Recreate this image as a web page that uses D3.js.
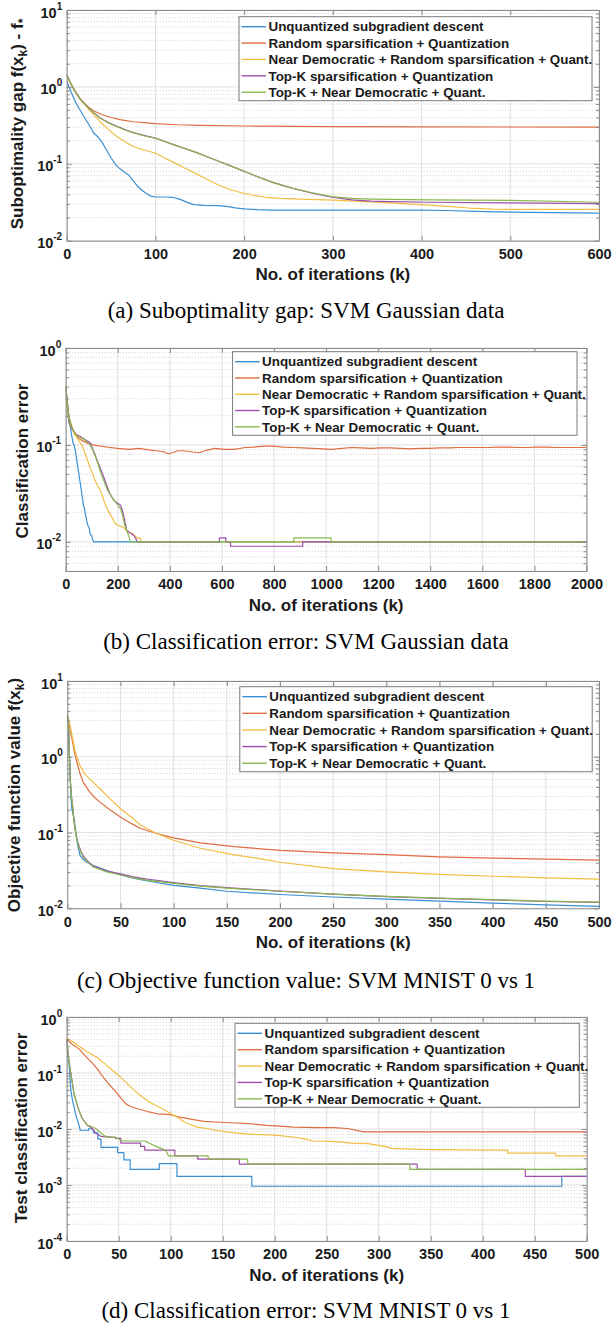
<!DOCTYPE html>
<html>
<head>
<meta charset="utf-8">
<script src="https://cdn.jsdelivr.net/npm/d3@7"></script>
<style>
  body { margin: 0; background: #fff; }
  svg { display: block; }
</style>
</head>
<body>
<svg id="chart" width="612" height="1324"></svg>
<script>
// legend entries, same for all four panels
const seriesNames = [
  'Unquantized subgradient descent',
  'Random sparsification + Quantization',
  'Near Democratic + Random sparsification + Quant.',
  'Top-K sparsification + Quantization',
  'Top-K + Near Democratic + Quant.'
];
const seriesColors = ['#3a8fd2', '#e06c42', '#f1bd42', '#9d4fab', '#88b84c'];

// (a) suboptimality gap, [iteration, value]
const gapUnquantized = [[0,1.2],[5,0.85],[10,0.63],[15,0.5],[20,0.4],[26,0.31],[30,0.255],[35,0.225],[40,0.19],[45,0.15],[50,0.12],[55,0.098],[60,0.086],[65,0.078],[70,0.071],[75,0.06],[80,0.051],[85,0.045],[90,0.041],[95,0.038],[100,0.037],[110,0.037],[120,0.0365],[128,0.0345],[136,0.0315],[143,0.0295],[155,0.0288],[170,0.0286],[180,0.028],[190,0.0267],[200,0.026],[215,0.0253],[230,0.025],[300,0.025],[400,0.025],[430,0.0247],[460,0.024],[500,0.0235],[550,0.0232],[600,0.0228]];
const gapRandom = [[0,1.4],[5,1.08],[10,0.86],[15,0.71],[20,0.61],[25,0.54],[30,0.49],[40,0.435],[50,0.4],[60,0.375],[75,0.352],[90,0.34],[100,0.333],[125,0.322],[150,0.316],[200,0.31],[300,0.305],[400,0.303],[500,0.301],[600,0.299]];
const gapNearDemRandom = [[0,1.45],[5,1.08],[10,0.85],[15,0.7],[22,0.56],[30,0.44],[38,0.35],[47,0.28],[56,0.228],[65,0.195],[75,0.168],[88,0.15],[100,0.138],[111,0.118],[122,0.102],[134,0.087],[145,0.075],[158,0.063],[171,0.053],[185,0.046],[197,0.042],[210,0.039],[224,0.0367],[240,0.0355],[255,0.035],[300,0.0338],[330,0.0325],[365,0.031],[409,0.029],[430,0.028],[453,0.0266],[480,0.0258],[500,0.0256],[600,0.0256]];
const gapTopK = [[0,1.45],[5,1.08],[10,0.85],[15,0.7],[22,0.57],[30,0.465],[38,0.395],[47,0.345],[56,0.31],[65,0.28],[75,0.255],[88,0.232],[100,0.216],[122,0.175],[145,0.142],[167,0.113],[189,0.09],[211,0.071],[233,0.057],[255,0.048],[277,0.0414],[299,0.0367],[321,0.034],[343,0.0328],[365,0.0322],[409,0.0316],[500,0.031],[600,0.0303]];
const gapTopKNearDem = [[0,1.45],[5,1.08],[10,0.85],[15,0.7],[22,0.57],[30,0.465],[38,0.39],[47,0.34],[56,0.305],[65,0.277],[75,0.252],[88,0.23],[100,0.215],[122,0.175],[145,0.142],[167,0.113],[189,0.09],[211,0.071],[233,0.057],[255,0.048],[277,0.042],[299,0.0375],[321,0.0355],[343,0.0348],[409,0.034],[500,0.0334],[600,0.0316]];

// (b) classification error, Gaussian data
const clsUnquantized = [[0,0.4],[2,0.33],[4,0.28],[8,0.22],[12,0.17],[17,0.16],[22,0.13],[28,0.105],[32,0.1],[38,0.085],[44,0.065],[51,0.049],[56,0.04],[62,0.031],[68,0.024],[72,0.022],[76,0.019],[80,0.017],[84,0.015],[90,0.014],[94,0.012],[100,0.0115],[104,0.0105],[107,0.01],[2000,0.01]];
const clsRandom = [[0,0.4],[5,0.3],[10,0.2],[17,0.16],[30,0.138],[49,0.118],[65,0.11],[81,0.105],[107,0.1],[132,0.097],[170,0.094],[200,0.092],[244,0.09],[280,0.092],[320,0.089],[349,0.087],[375,0.085],[394,0.081],[410,0.083],[430,0.087],[454,0.087],[480,0.085],[513,0.083],[540,0.088],[573,0.092],[610,0.09],[648,0.09],[690,0.094],[723,0.095],[760,0.097],[798,0.097],[835,0.095],[873,0.094],[910,0.093],[948,0.092],[985,0.091],[1022,0.09],[1060,0.092],[1097,0.094],[1135,0.093],[1172,0.092],[1210,0.093],[1247,0.093],[1285,0.092],[1322,0.091],[1360,0.092],[1397,0.092],[1435,0.093],[1472,0.093],[1510,0.094],[1547,0.094],[1585,0.094],[1621,0.094],[1660,0.095],[1696,0.095],[1735,0.094],[1771,0.094],[1810,0.095],[1846,0.095],[1885,0.094],[1921,0.094],[1960,0.094],[2000,0.094]];
const clsNearDemRandom = [[0,0.4],[4,0.28],[12,0.19],[23,0.16],[32,0.13],[42,0.12],[52,0.108],[62,0.1],[72,0.085],[81,0.073],[90,0.062],[100,0.053],[110,0.045],[120,0.039],[130,0.035],[139,0.031],[148,0.026],[158,0.022],[167,0.02],[177,0.018],[187,0.016],[197,0.015],[210,0.0145],[222,0.014],[235,0.013],[248,0.0124],[260,0.012],[274,0.011],[285,0.011],[293,0.01],[2000,0.01]];
const clsTopK = [[0,0.4],[5,0.3],[12,0.2],[20,0.16],[30,0.14],[42,0.127],[55,0.123],[75,0.113],[94,0.105],[103,0.092],[113,0.079],[122,0.068],[132,0.058],[142,0.05],[152,0.042],[161,0.036],[171,0.031],[180,0.028],[190,0.026],[200,0.025],[210,0.024],[216,0.022],[222,0.019],[228,0.016],[235,0.013],[245,0.0125],[255,0.012],[262,0.0115],[268,0.011],[274,0.01],[590,0.01],[590,0.011],[615,0.011],[615,0.01],[633,0.01],[633,0.009],[910,0.009],[910,0.01],[2000,0.01]];
const clsTopKNearDem = [[0,0.4],[5,0.3],[12,0.2],[20,0.16],[30,0.14],[42,0.125],[55,0.12],[75,0.112],[94,0.1],[104,0.088],[113,0.077],[123,0.065],[132,0.054],[142,0.046],[152,0.039],[161,0.034],[171,0.031],[180,0.028],[190,0.026],[200,0.024],[210,0.022],[218,0.019],[226,0.015],[235,0.013],[242,0.0115],[248,0.01],[876,0.01],[876,0.011],[1019,0.011],[1019,0.01],[2000,0.01]];

// (c) objective function value, MNIST 0 vs 1
const objUnquantized = [[0,3.4],[1,2.8],[2,1.1],[3,0.42],[3.5,0.28],[4.4,0.2],[5.5,0.17],[6.5,0.15],[7.5,0.115],[8.8,0.083],[10,0.066],[12,0.05],[15,0.044],[18,0.041],[24,0.037],[31,0.034],[40,0.0305],[50,0.0278],[62,0.025],[78,0.0226],[100,0.0201],[125,0.0185],[150,0.0168],[200,0.0152],[250,0.0141],[300,0.0132],[350,0.0124],[400,0.0117],[450,0.0111],[500,0.0106]];
const objRandom = [[0,3.4],[2,2.6],[4,1.85],[7,1.1],[10,0.75],[12,0.6],[15,0.46],[20,0.36],[25,0.295],[31,0.25],[40,0.2],[50,0.16],[60,0.132],[69,0.113],[84,0.097],[100,0.085],[125,0.073],[157,0.065],[182,0.061],[200,0.058],[250,0.054],[300,0.051],[350,0.0478],[400,0.046],[450,0.0445],[500,0.0432]];
const objNearDemRandom = [[0,3.6],[2,2.8],[4,2.06],[7,1.25],[10,0.9],[12,0.76],[16,0.6],[21,0.51],[31,0.375],[40,0.28],[50,0.206],[60,0.16],[69,0.125],[84,0.097],[100,0.079],[125,0.062],[157,0.0506],[182,0.045],[200,0.0405],[250,0.0334],[300,0.0302],[350,0.028],[400,0.0265],[450,0.0252],[500,0.0242]];
const objTopK = [[0,3.6],[1,3.0],[2,1.0],[3,0.46],[4,0.3],[5,0.226],[6,0.16],[7,0.12],[8.5,0.09],[10.4,0.07],[12.5,0.058],[15,0.049],[19,0.042],[24.5,0.036],[31,0.0335],[37,0.031],[50,0.0285],[62,0.026],[75,0.0243],[100,0.0218],[125,0.0199],[150,0.0187],[200,0.0169],[250,0.0154],[300,0.0143],[350,0.0135],[400,0.0129],[450,0.0123],[500,0.012]];
const objTopKNearDem = [[0,3.6],[1,2.9],[2,0.95],[3,0.44],[4,0.29],[5,0.22],[6,0.155],[7,0.117],[8.5,0.088],[10.4,0.068],[12.5,0.056],[15,0.047],[19,0.041],[24.5,0.035],[31,0.0325],[37,0.0302],[50,0.0275],[62,0.0252],[75,0.0236],[100,0.0213],[125,0.0196],[150,0.0185],[200,0.0168],[250,0.0154],[300,0.0144],[350,0.0136],[400,0.013],[450,0.0124],[500,0.0121]];

// (d) test classification error, MNIST 0 vs 1 (steps of 1/2115)
const tceUnquantized = [[0,0.4],[1,0.25],[2.5,0.128],[4,0.049],[5.5,0.033],[7,0.025],[9,0.017],[10.5,0.014],[12,0.0115],[13,0.0095],[21,0.0095],[21,0.0101],[25,0.0101],[26,0.0085],[30,0.0085],[30,0.0066],[33,0.0066],[33,0.0047],[49,0.0047],[49,0.0038],[55,0.0038],[55,0.0028],[61,0.0028],[61,0.0019],[89,0.0019],[89,0.0024],[106,0.0024],[106,0.00142],[178,0.00142],[178,0.00095],[476,0.00095],[476,0.00142],[500,0.00142]];
const tceRandom = [[0,0.4],[5,0.33],[12,0.267],[18,0.2],[24,0.155],[30,0.115],[35,0.084],[40,0.065],[46,0.049],[52,0.036],[57,0.028],[62,0.025],[68,0.023],[78,0.0205],[87,0.0187],[100,0.018],[107,0.0165],[113,0.0158],[122,0.0147],[132,0.0137],[147,0.0132],[162,0.0128],[175,0.0125],[185,0.012],[192,0.0116],[205,0.0113],[218,0.0108],[240,0.0106],[256,0.0106],[270,0.0102],[286,0.0089],[500,0.0089]];
const tceNearDemRandom = [[0,0.42],[6,0.36],[12,0.3],[18,0.25],[24,0.217],[30,0.185],[35,0.155],[42,0.12],[50,0.09],[57,0.068],[65,0.049],[72,0.038],[80,0.03],[88,0.025],[95,0.0214],[102,0.018],[108,0.0155],[113,0.0133],[119,0.012],[125,0.0108],[135,0.0102],[143,0.0095],[152,0.009],[162,0.0085],[172,0.0082],[181,0.008],[200,0.0078],[218,0.0072],[230,0.0066],[237,0.0061],[255,0.006],[274,0.0056],[290,0.0055],[300,0.0051],[308,0.0048],[312,0.0045],[349,0.0043],[424,0.0042],[424,0.0037],[470,0.0037],[470,0.0033],[500,0.0033]];
const tceTopK = [[0,0.4],[1.5,0.2],[4,0.097],[7,0.043],[10.5,0.025],[15,0.0153],[20,0.0116],[23,0.0108],[26,0.0095],[28,0.0083],[33,0.0074],[47,0.0071],[47,0.0068],[52,0.0068],[52,0.0056],[71,0.0056],[71,0.0049],[75,0.0049],[75,0.0042],[104,0.0042],[104,0.0033],[126,0.0033],[126,0.0029],[166,0.0029],[166,0.00236],[337,0.00236],[337,0.0019],[441,0.0019],[441,0.00142],[500,0.00142]];
const tceTopKNearDem = [[0,0.4],[1.5,0.2],[4,0.097],[7,0.043],[10.5,0.025],[15,0.0153],[20,0.0116],[23,0.0112],[28,0.0102],[32,0.0088],[36,0.0076],[40,0.0071],[47,0.0071],[52,0.0063],[55,0.0061],[75,0.0061],[80,0.0055],[87,0.0048],[95,0.0042],[98,0.0033],[136,0.0033],[136,0.0029],[174,0.0029],[174,0.00236],[330,0.00236],[330,0.0019],[500,0.0019]];

// ticks
const gapTicksX = [0, 100, 200, 300, 400, 500, 600];
const clsTicksX = [0, 200, 400, 600, 800, 1000, 1200, 1400, 1600, 1800, 2000];
const mnistTicksX = [0, 50, 100, 150, 200, 250, 300, 350, 400, 450, 500];
const gapExps = [1, 0, -1, -2];
const clsExps = [0, -1, -2];
const objExps = [1, 0, -1, -2];
const tceExps = [0, -1, -2, -3, -4];

const xLabel = 'No. of iterations (k)';
const captions = [
  '(a) Suboptimality gap: SVM Gaussian data',
  '(b) Classification error: SVM Gaussian data',
  '(c) Objective function value: SVM MNIST 0 vs 1',
  '(d) Classification error: SVM MNIST 0 vs 1'
];

// layout of the four stacked panels
const panels = [
  { x0: 66.7, x1: 599, y0: 10, y1: 240.7, xTicks: gapTicksX, yDomain: [1e-2, 1e1], exps: gapExps,
    series: [gapUnquantized, gapRandom, gapNearDemRandom, gapTopK, gapTopKNearDem],
    ylabel: [['Suboptimality gap f(x'], ['k', 1], [') - f'], ['*', 1]], ylabelX: 22.7, ylabelY: 124,
    captionY: 318, legend: { left: 239, right: 592, top: 16.7, bottom: 100.7 } },
  { x0: 65.7, x1: 586.5, y0: 348, y1: 571, xTicks: clsTicksX, yDomain: [0.005, 1], exps: clsExps,
    series: [clsUnquantized, clsRandom, clsNearDemRandom, clsTopK, clsTopKNearDem],
    ylabel: [['Classification error']], ylabelX: 28.3, ylabelY: 461,
    captionY: 649, legend: { left: 232.6, right: 577, top: 351.7, bottom: 435.3 } },
  { x0: 67.3, x1: 599, y0: 681, y1: 908.3, xTicks: mnistTicksX, yDomain: [1e-2, 1e1], exps: objExps,
    series: [objUnquantized, objRandom, objNearDemRandom, objTopK, objTopKNearDem],
    ylabel: [['Objective function value f(x'], ['k', 1], [')']], ylabelX: 20, ylabelY: 795,
    captionY: 988, legend: { left: 239.8, right: 592.2, top: 686.7, bottom: 771.7 } },
  { x0: 66.7, x1: 586.7, y0: 1017, y1: 1241, xTicks: mnistTicksX, yDomain: [1e-4, 1], exps: tceExps,
    series: [tceUnquantized, tceRandom, tceNearDemRandom, tceTopK, tceTopKNearDem],
    ylabel: [['Test classification error']], ylabelX: 26.7, ylabelY: 1128,
    captionY: 1318, legend: { left: 235, right: 579.3, top: 1023.3, bottom: 1107.3 } }
];

const sans = '"Liberation Sans", Arial, Helvetica, sans-serif';
const serif = '"Liberation Serif", "Times New Roman", serif';
const axisColor = '#8a8a8a';
const textColor = '#1a1a1a';

const svg = d3.select('#chart');
svg.append('rect').attr('width', 612).attr('height', 1324).attr('fill', '#fff');
const defs = svg.append('defs');

panels.forEach((p, pi) => {
  const xMax = p.xTicks[p.xTicks.length - 1];
  const x = d3.scaleLinear().domain([0, xMax]).range([p.x0, p.x1]);
  const y = d3.scaleLog().domain(p.yDomain).range([p.y1, p.y0]);
  const g = svg.append('g');

  const majors = p.exps.map(e => Math.pow(10, e));
  const minors = [];
  const lo = Math.floor(Math.log10(p.yDomain[0]) + 1e-9);
  const hi = Math.round(Math.log10(p.yDomain[1]));
  for (let e = lo; e < hi; e++) {
    for (let m = 2; m <= 9; m++) {
      const v = m * Math.pow(10, e);
      if (v >= p.yDomain[0] * 0.999 && v <= p.yDomain[1]) minors.push(v);
    }
  }

  // grid
  g.append('g').selectAll('line').data(minors).join('line')
    .attr('x1', p.x0).attr('x2', p.x1)
    .attr('y1', d => y(d)).attr('y2', d => y(d))
    .attr('stroke', '#c4c4c4').attr('stroke-width', 0.8).attr('stroke-dasharray', '1,2');
  g.append('g').selectAll('line').data(majors).join('line')
    .attr('x1', p.x0).attr('x2', p.x1)
    .attr('y1', d => y(d)).attr('y2', d => y(d))
    .attr('stroke', '#e0e0e0').attr('stroke-width', 1);
  g.append('g').selectAll('line').data(p.xTicks).join('line')
    .attr('x1', d => x(d)).attr('x2', d => x(d))
    .attr('y1', p.y0).attr('y2', p.y1)
    .attr('stroke', '#e0e0e0').attr('stroke-width', 1);

  // curves
  defs.append('clipPath').attr('id', 'clip' + pi)
    .append('rect').attr('x', p.x0).attr('y', p.y0)
    .attr('width', p.x1 - p.x0).attr('height', p.y1 - p.y0);
  const line = d3.line().x(d => x(d[0])).y(d => y(d[1]));
  const curves = g.append('g').attr('clip-path', `url(#clip${pi})`);
  p.series.forEach((s, i) => {
    curves.append('path').attr('d', line(s))
      .attr('fill', 'none').attr('stroke', seriesColors[i])
      .attr('stroke-width', 1.2).attr('stroke-linejoin', 'round');
  });

  // axes with inward ticks
  const styleAxis = a => {
    a.attr('font-family', sans).attr('font-size', 14.5).attr('font-weight', 'bold');
    a.selectAll('.domain').attr('stroke', axisColor);
    a.selectAll('.tick line').attr('stroke', axisColor);
    a.selectAll('.tick text').attr('fill', textColor);
  };
  g.append('g').attr('transform', `translate(0,${p.y1})`)
    .call(d3.axisBottom(x).tickValues(p.xTicks).tickSizeInner(-5).tickSizeOuter(0)
      .tickPadding(8).tickFormat(d3.format('d')))
    .call(styleAxis);
  g.append('g').attr('transform', `translate(0,${p.y0})`)
    .call(d3.axisTop(x).tickValues(p.xTicks).tickSizeInner(-5).tickSizeOuter(0).tickFormat(''))
    .call(styleAxis);
  g.append('g').attr('transform', `translate(${p.x0},0)`)
    .call(d3.axisLeft(y).tickValues(majors).tickSizeInner(-5).tickSizeOuter(0).tickFormat(''))
    .call(styleAxis);
  g.append('g').attr('transform', `translate(${p.x1},0)`)
    .call(d3.axisRight(y).tickValues(majors).tickSizeInner(-5).tickSizeOuter(0).tickFormat(''))
    .call(styleAxis);
  g.append('g').attr('transform', `translate(${p.x0},0)`)
    .call(d3.axisLeft(y).tickValues(minors).tickSizeInner(-3).tickSizeOuter(0).tickFormat(''))
    .call(styleAxis).call(a => a.select('.domain').remove());
  g.append('g').attr('transform', `translate(${p.x1},0)`)
    .call(d3.axisRight(y).tickValues(minors).tickSizeInner(-3).tickSizeOuter(0).tickFormat(''))
    .call(styleAxis).call(a => a.select('.domain').remove());

  // y tick labels as 10^e
  p.exps.forEach(e => {
    const t = g.append('text')
      .attr('x', p.x0 - 4.5).attr('y', y(Math.pow(10, e)) + 7.5)
      .attr('text-anchor', 'end').attr('font-family', sans)
      .attr('font-weight', 'bold').attr('font-size', 14.5).attr('fill', textColor);
    t.append('tspan').text('10');
    t.append('tspan').attr('dy', -8).attr('font-size', 10).text(e);
  });

  // axis labels
  g.append('text')
    .attr('x', (p.x0 + p.x1) / 2).attr('y', p.y1 + 39.5)
    .attr('text-anchor', 'middle').attr('font-family', sans)
    .attr('font-weight', 'bold').attr('font-size', 17).attr('fill', textColor)
    .text(xLabel);
  const yl = g.append('text')
    .attr('transform', `translate(${p.ylabelX},${p.ylabelY}) rotate(-90)`)
    .attr('text-anchor', 'middle').attr('font-family', sans)
    .attr('font-weight', 'bold').attr('font-size', 17).attr('fill', textColor);
  let shifted = false;
  p.ylabel.forEach(([txt, sub]) => {
    const ts = yl.append('tspan').text(txt);
    if (sub && !shifted) { ts.attr('dy', 4).attr('font-size', 12); shifted = true; }
    else if (sub) { ts.attr('font-size', 12); }
    else if (shifted) { ts.attr('dy', -4); shifted = false; }
  });

  // legend
  const L = p.legend;
  const lg = g.append('g');
  lg.append('rect')
    .attr('x', L.left).attr('y', L.top)
    .attr('width', L.right - L.left).attr('height', L.bottom - L.top)
    .attr('fill', '#fff').attr('stroke', '#7a7a7a').attr('stroke-width', 1);
  const step = (L.bottom - L.top - 18.5) / 4;
  seriesNames.forEach((name, i) => {
    const cy = L.top + 10 + i * step;
    lg.append('line')
      .attr('x1', L.left + 2.5).attr('x2', L.left + 27)
      .attr('y1', cy).attr('y2', cy)
      .attr('stroke', seriesColors[i]).attr('stroke-width', 1.4);
    lg.append('text')
      .attr('x', L.left + 29.5).attr('y', cy + 4.7)
      .attr('font-family', sans).attr('font-weight', 'bold')
      .attr('font-size', 13.4).attr('fill', textColor)
      .text(name);
  });

  // caption
  svg.append('text')
    .attr('x', 306).attr('y', p.captionY)
    .attr('text-anchor', 'middle').attr('font-family', serif)
    .attr('font-size', 23).attr('fill', '#000')
    .text(captions[pi]);
});
</script>
</body>
</html>
